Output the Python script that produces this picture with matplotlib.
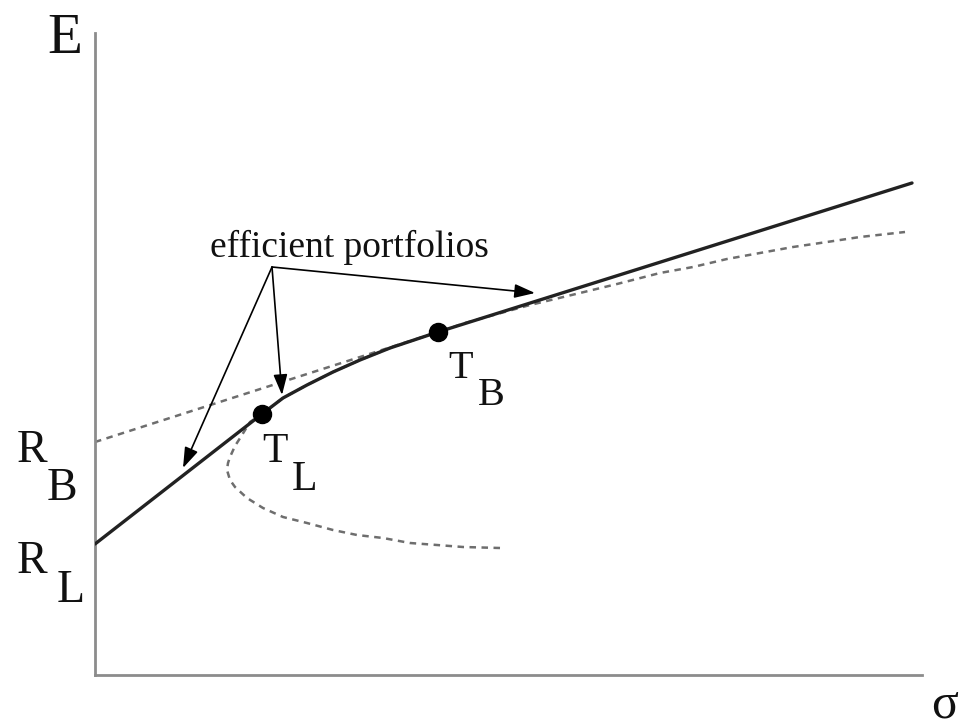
import matplotlib.pyplot as plt

# intercepts on the E axis
r_lend = 1.31
r_borrow = 2.33

# tangency portfolios (sigma, E)
t_lend = (1.67, 2.61)
t_borrow = (3.43, 3.43)

# end of the borrowing line
sigma_end = 8.17
e_end = 4.92

# minimum-variance frontier, lower branch (from far end back up to T_L)
lower_sigma = [4.05, 3.68, 3.42, 3.15, 2.88, 2.62, 2.38, 2.12, 1.88, 1.68, 1.52, 1.40, 1.35, 1.32, 1.33, 1.35, 1.40, 1.47, 1.55]
lower_e = [1.27, 1.28, 1.30, 1.32, 1.37, 1.40, 1.45, 1.52, 1.58, 1.67, 1.77, 1.88, 1.95, 2.05, 2.12, 2.18, 2.29, 2.40, 2.53]

# frontier between T_L and T_B
mid_sigma = [1.88, 2.12, 2.38, 2.65, 2.95, 3.22]
mid_e = [2.77, 2.90, 3.03, 3.15, 3.27, 3.36]

# frontier beyond T_B
upper_sigma = [3.70, 3.95, 4.35, 4.85, 5.22, 5.65, 5.98, 6.32, 6.65, 6.98, 7.32, 7.65, 8.10]
upper_e = [3.52, 3.59, 3.70, 3.82, 3.91, 4.02, 4.08, 4.16, 4.22, 4.28, 4.33, 4.38, 4.43]

# arrow start and tips for the "efficient portfolios" note
note_xy = (1.77, 4.08)
note_text_xy = (2.54, 4.18)
arrow_tips = [(0.88, 2.07), (1.87, 2.80), (4.40, 3.82)]

fig = plt.figure(figsize=(9.68, 7.27), dpi=100)
ax = fig.add_axes([95 / 968, 52 / 727, 827 / 968, 642 / 727])
ax.set_xlim(0, 8.27)
ax.set_ylim(0, 6.42)
for side in ['top', 'right']:
    ax.spines[side].set_visible(False)
for side in ['left', 'bottom']:
    ax.spines[side].set_color('#8c8c8c')
    ax.spines[side].set_linewidth(2)
ax.set_xticks([])
ax.set_yticks([])

serif = 'Liberation Serif'
ink = '#111111'
dash_grey = '#6e6e6e'

# dashed frontier and borrowing line
front_sigma = lower_sigma + [t_lend[0]] + mid_sigma + [t_borrow[0]] + upper_sigma
front_e = lower_e + [t_lend[1]] + mid_e + [t_borrow[1]] + upper_e
ax.plot(front_sigma, front_e, color=dash_grey, lw=1.8, dashes=(2.6, 2.2), zorder=2)
ax.plot([0, t_borrow[0]], [r_borrow, t_borrow[1]], color=dash_grey, lw=1.8,
        dashes=(2.6, 2.2), zorder=2)

# solid efficient set
solid_sigma = [0, t_lend[0]] + mid_sigma + [t_borrow[0], sigma_end]
solid_e = [r_lend, t_lend[1]] + mid_e + [t_borrow[1], e_end]
ax.plot(solid_sigma, solid_e, color='#222222', lw=2.4, solid_capstyle='round', zorder=3)

ax.plot([t_lend[0], t_borrow[0]], [t_lend[1], t_borrow[1]], 'o', color='black',
        markersize=13, zorder=4)

ax.text(note_text_xy[0], note_text_xy[1], 'efficient portfolios', family=serif,
        fontsize=27, color=ink, ha='center', va='baseline')
for tip in arrow_tips:
    ax.annotate('', xy=tip, xytext=note_xy,
                arrowprops=dict(arrowstyle='-|>,head_length=0.5,head_width=0.17',
                                mutation_scale=25, lw=1.2, color='black',
                                shrinkA=0, shrinkB=0))

# point and axis labels
labels = [
    ('T', 3.53, 2.97, 29), ('B', 3.83, 2.70, 29),
    ('T', 1.67, 2.13, 30), ('L', 1.97, 1.85, 30),
    ('R', -0.78, 2.13, 33), ('B', -0.48, 1.75, 33),
    ('R', -0.78, 1.02, 33), ('L', -0.38, 0.73, 33),
    ('E', -0.48, 6.22, 41), ('σ', 8.36, -0.42, 36),
]
for s, x, y, size in labels:
    ax.text(x, y, s, family=serif, fontsize=size, color=ink, ha='left',
            va='baseline', clip_on=False)

fig.savefig('out.png', dpi=100)
